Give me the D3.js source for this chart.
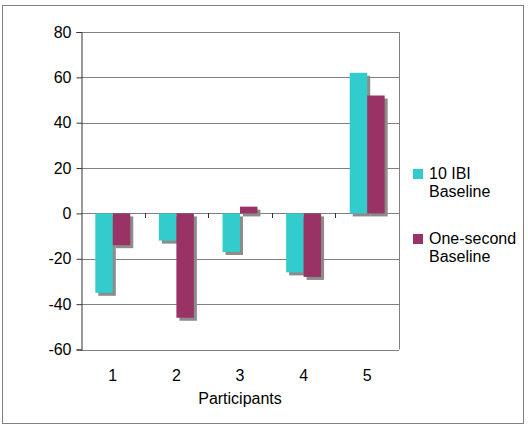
<!DOCTYPE html>
<html><head><meta charset="utf-8">
<script src="https://cdn.jsdelivr.net/npm/d3@7"></script>
<style>body{margin:0;background:#fff}svg{display:block;font-family:"Liberation Sans",Arial,sans-serif}</style>
</head><body>
<svg id="c" width="528" height="429"></svg>
<script>
const categories = ["1","2","3","4","5"];
const seriesNames = ["10 IBI Baseline","One-second Baseline"];
const ibi10 = [-35, -12, -17, -26, 62];
const oneSecond = [-14, -46, 3, -28, 52];
const yTicks = [-60,-40,-20,0,20,40,60,80];
const colors = ["#33CCCC","#993366"];
const legendLines = [["10 IBI","Baseline"],["One-second","Baseline"]];

const svg = d3.select("#c");
svg.append("rect").attr("x",2.5).attr("y",5.5).attr("width",521).attr("height",418)
  .attr("fill","#fff").attr("stroke","#808080").attr("stroke-width",1);

const L=81, R=399, T=32, B=349.5;
const y = d3.scaleLinear().domain([-60,80]).range([B,T]);
const x0 = d3.scaleBand().domain(categories).range([L,R]).padding(0);
const x1 = d3.scaleBand().domain(seriesNames).range([0,x0.bandwidth()]).paddingInner(0).paddingOuter(0.82);

// gridlines
svg.append("g").selectAll("line").data(yTicks).join("line")
  .attr("x1",L).attr("x2",R).attr("y1",d=>Math.round(y(d))+0.5).attr("y2",d=>Math.round(y(d))+0.5)
  .attr("stroke","#808080").attr("stroke-width",1);
// plot border right
svg.append("line").attr("x1",R+0.5).attr("x2",R+0.5).attr("y1",T).attr("y2",B).attr("stroke","#808080");

const data = categories.map((c,i)=>({cat:c, vals:[{s:seriesNames[0],v:ibi10[i],k:0},{s:seriesNames[1],v:oneSecond[i],k:1}]}));
const g = svg.append("g");
const flat = data.flatMap(d=>d.vals.map(v=>({...v,cat:d.cat})));
// shadows
g.selectAll("rect.sh").data(flat).join("rect").attr("class","sh")
  .attr("x",d=>x0(d.cat)+x1(d.s)+3).attr("y",d=>Math.min(y(d.v),y(0))+3)
  .attr("width",x1.bandwidth()).attr("height",d=>Math.abs(y(d.v)-y(0)))
  .attr("fill","#8c8c8c");
g.selectAll("rect.bar").data(flat).join("rect").attr("class","bar")
  .attr("x",d=>x0(d.cat)+x1(d.s)).attr("y",d=>Math.min(y(d.v),y(0)))
  .attr("width",x1.bandwidth()).attr("height",d=>Math.abs(y(d.v)-y(0)))
  .attr("fill",d=>colors[d.k]);

// y axis
const ya = svg.append("g").attr("transform",`translate(${L+0.5},0)`)
  .call(d3.axisLeft(y).tickValues(yTicks).tickSize(5).tickPadding(5).tickFormat(d=>String(d)));
ya.select(".domain").attr("stroke","#333");
ya.selectAll(".tick line").attr("stroke","#333");
ya.selectAll("text").attr("font-size",16).attr("fill","#000").attr("font-family","Liberation Sans, Arial, sans-serif");

// x axis ticks on zero line at boundaries
const bounds = categories.slice(1).map(c=>x0(c));
svg.append("g").selectAll("line").data(bounds).join("line")
  .attr("x1",d=>Math.round(d)+0.5).attr("x2",d=>Math.round(d)+0.5)
  .attr("y1",Math.round(y(0))).attr("y2",Math.round(y(0))+5).attr("stroke","#333");
svg.append("g").selectAll("text").data(categories).join("text")
  .attr("x",d=>x0(d)+x0.bandwidth()/2).attr("y",381).attr("text-anchor","middle")
  .attr("font-size",16).text(d=>d);
svg.append("text").attr("x",240).attr("y",404).attr("text-anchor","middle").attr("font-size",16).text("Participants");

// legend
const lg = svg.append("g");
const ly = [169, 234];
legendLines.forEach((lines,i)=>{
  lg.append("rect").attr("x",413).attr("y",ly[i]).attr("width",10).attr("height",10).attr("fill",colors[i]);
  lines.forEach((t,j)=>{
    lg.append("text").attr("x",429).attr("y",ly[i]+10+j*18).attr("font-size",16).text(t);
  });
});
</script>
</body></html>
